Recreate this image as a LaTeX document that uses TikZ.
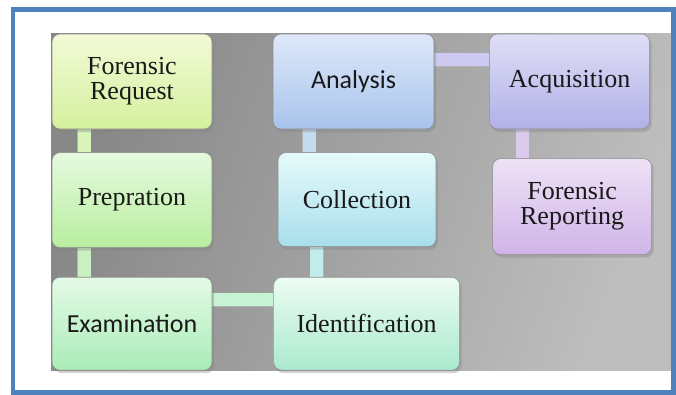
\documentclass[tikz,border=0pt]{standalone}
\usepackage{fontspec}
\setmainfont{Liberation Serif}
\newfontfamily\timesfont{Liberation Serif}
\newfontfamily\calfont{Carlito}
\usetikzlibrary{positioning, shadows, calc}
\usepackage{xcolor}
\definecolor{frameblue}{RGB}{79, 129, 189}
\definecolor{panellight}{RGB}{190, 190, 190}
\definecolor{paneldark}{RGB}{136, 136, 136}
% box colours, top / bottom
\definecolor{reqtop}{RGB}{242, 250, 214}  \definecolor{reqbot}{RGB}{212, 240, 158}
\definecolor{preptop}{RGB}{230, 250, 222} \definecolor{prepbot}{RGB}{184, 238, 160}
\definecolor{examtop}{RGB}{228, 250, 230} \definecolor{exambot}{RGB}{170, 236, 184}
\definecolor{idtop}{RGB}{236, 252, 242}   \definecolor{idbot}{RGB}{170, 234, 206}
\definecolor{colltop}{RGB}{230, 250, 250} \definecolor{collbot}{RGB}{168, 222, 236}
\definecolor{anatop}{RGB}{222, 232, 250}  \definecolor{anabot}{RGB}{168, 196, 236}
\definecolor{acqtop}{RGB}{222, 222, 246}  \definecolor{acqbot}{RGB}{178, 176, 232}
\definecolor{reptop}{RGB}{238, 226, 246}  \definecolor{repbot}{RGB}{208, 180, 232}
\pgfdeclarelayer{panel}
\pgfdeclarelayer{links}
\pgfsetlayers{panel,links,main}

\begin{document}
\begin{tikzpicture}[x=1pt, y=-1pt,
                box/.style={draw=black!45, line width=0.6pt, rounded corners=8pt, minimum width=160pt, minimum height=95pt,
                            align=center, text=black!90, font=\timesfont\fontsize{26}{25}\selectfont,
                            drop shadow={shadow xshift=2pt, shadow yshift=-3pt, opacity=0.35}},
                sansbox/.style={box, font=\calfont\fontsize{26}{25}\selectfont},
                link/.style={draw=black!30, line width=0.6pt, double distance=13pt}
            ]
                \useasboundingbox (0,0) rectangle (676,394);

                % left column
                \node[box, top color=reqtop, bottom color=reqbot] (req) at (132,81.5) {Forensic\\Request};
                \node[box, top color=preptop, bottom color=prepbot] (prep) [below=23pt of req] {Prepration};
                \node[sansbox, top color=examtop, bottom color=exambot, minimum height=93pt] (exam) [below=29pt of prep] {Examination};

                % middle column
                \node[sansbox, top color=anatop, bottom color=anabot, minimum width=161pt] (ana) at (353.5,81.5) {Analysis};
                \node[box, top color=colltop, bottom color=collbot, minimum width=158pt, minimum height=94pt] (coll) [below=23pt of ana, xshift=3.5pt] {Collection};
                \node[box, top color=idtop, bottom color=idbot, minimum width=186pt, minimum height=93pt] (ident) [right=61pt of exam] {Identification};

                % right column
                \node[box, top color=acqtop, bottom color=acqbot] (acq) [right=55pt of ana] {Acquisition};
                \node[box, top color=reptop, bottom color=repbot, minimum width=159pt, minimum height=96pt] (rep) [below=29pt of acq, xshift=2.5pt] {Forensic\\Reporting};

                \begin{pgfonlayer}{panel}
                    \fill[white] (0,0) rectangle (676,394);
                    \shade[left color=paneldark, right color=panellight, shading angle=70] (51,33) rectangle (671,370);
                \end{pgfonlayer}

                \begin{pgfonlayer}{links}
                    \draw[link, double={rgb,255:red,216;green,244;blue,184}] ([xshift=32.5pt]req.south west) -- ([xshift=32.5pt]prep.north west);
                    \draw[link, double={rgb,255:red,200;green,240;blue,192}] ([xshift=32.5pt]prep.south west) -- ([xshift=32.5pt]exam.north west);
                    \draw[link, double={rgb,255:red,200;green,244;blue,214}] ([yshift=-23pt]exam.north east) -- ([yshift=-23pt]exam.north east -| ident.west);
                    \draw[link, double={rgb,255:red,192;green,236;blue,236}] ([xshift=39pt]coll.south west) -- ([xshift=39pt]coll.south west |- ident.north);
                    \draw[link, double={rgb,255:red,196;green,220;blue,240}] ([xshift=36.5pt]ana.south west) -- ([xshift=36.5pt]ana.south west |- coll.north);
                    \draw[link, double={rgb,255:red,204;green,202;blue,240}] ([yshift=-26pt]ana.north east) -- ([yshift=-26pt]ana.north east -| acq.west);
                    \draw[link, double={rgb,255:red,220;green,202;blue,236}] ([xshift=33.5pt]acq.south west) -- ([xshift=33.5pt]acq.south west |- rep.north);
                \end{pgfonlayer}

                \draw[line width=4.5pt, frameblue] (13,9.5) rectangle (673.5,392.5);
            \end{tikzpicture}
\end{document}
